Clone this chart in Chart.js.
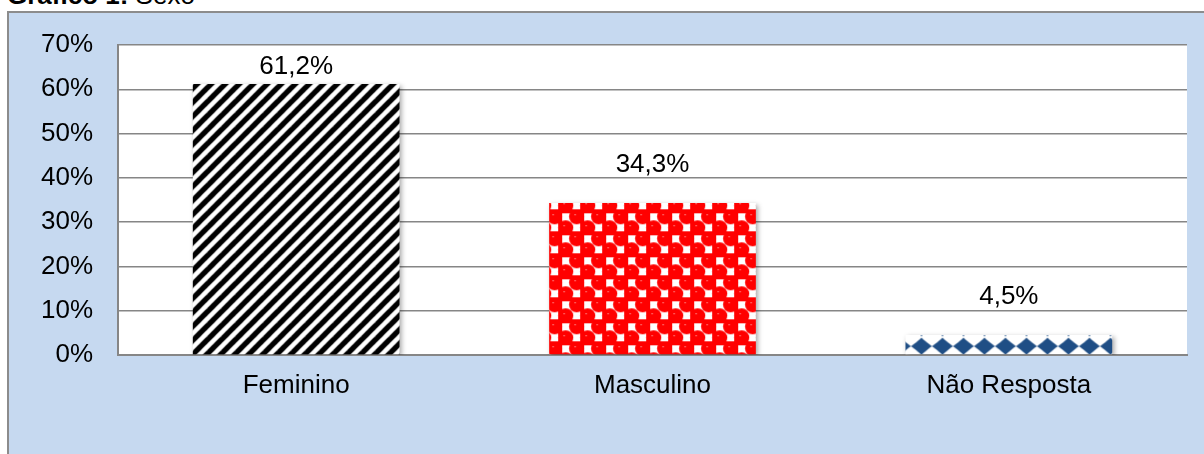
<!DOCTYPE html>
<html>
<head>
<meta charset="utf-8">
<script src="https://cdn.jsdelivr.net/npm/chart.js@4/dist/chart.umd.min.js"></script>
<style>
  html, body { margin: 0; padding: 0; background: #fff; overflow: hidden; }
  body { width: 1204px; height: 454px; position: relative; font-family: "Liberation Sans", Arial, sans-serif; }
  #box { position: absolute; left: 7px; top: 11px; width: 1250px; height: 470px; background: #c6d9f0; border: 2px solid #8c8c8c; }
  #title { position: absolute; left: 7px; top: -18px; font-size: 26px; line-height: 26px; color: #000; white-space: nowrap; }
  #wrap { position: absolute; left: 0; top: 0; width: 1204px; height: 454px; }
</style>
</head>
<body>
<div id="box"></div>
<div id="title"><b>Gráfico 1:</b> Sexo</div>
<div id="wrap"><canvas id="chart"></canvas></div>
<script>
const categories = ["Feminino", "Masculino", "Não Resposta"];
const values = [61.2, 34.3, 4.5];
const valueLabels = ["61,2%", "34,3%", "4,5%"];
const yTicks = [0, 10, 20, 30, 40, 50, 60, 70];

const FONT = "'Liberation Sans', Arial, sans-serif";

function makeTile(w, h, draw) {
  const c = document.createElement("canvas");
  c.width = w;
  c.height = h;
  const g = c.getContext("2d");
  draw(g, w, h);
  return c;
}

const ctx = document.getElementById("chart").getContext("2d");

// diagonal black stripes
const stripeTile = makeTile(14, 14, (g, w, h) => {
  g.fillStyle = "#fff";
  g.fillRect(0, 0, w, h);
  g.strokeStyle = "#000";
  g.lineWidth = 5.4;
  for (const o of [-14, 0, 14]) {
    g.beginPath();
    g.moveTo(o - 2, h + 2);
    g.lineTo(o + w + 2, -2);
    g.stroke();
  }
});

// red balls with white checks
const redTile = makeTile(22, 22, (g) => {
  g.fillStyle = "#fff";
  g.fillRect(0, 0, 22, 22);
  g.fillStyle = "#ff0000";
  for (const [x, y] of [[16.5, 5.5], [5.5, 16.5], [-5.5, 5.5], [5.5, -5.5], [16.5, 27.5], [27.5, 16.5]]) {
    g.beginPath();
    g.arc(x, y, 7.6, 0, Math.PI * 2);
    g.fill();
  }
  g.fillStyle = "#ff0000";
  g.fillRect(9, 0, 4, 22);
  g.fillRect(0, 9, 22, 4);
  g.fillStyle = "#ff7070";
  g.fillRect(14, 3, 2, 1);
  g.fillRect(3, 14, 2, 1);
});

// blue diamonds along the bottom
const diamondTile = makeTile(21, 24, (g) => {
  g.fillStyle = "#fff";
  g.fillRect(0, 0, 21, 24);
  g.fillStyle = "#1f4e85";
  for (const cx of [16, -5, 37]) {
    g.beginPath();
    g.moveTo(cx - 10.5, 16);
    g.quadraticCurveTo(cx - 6, 13, cx, 7.5);
    g.quadraticCurveTo(cx + 6, 13, cx + 10.5, 16);
    g.quadraticCurveTo(cx + 6, 19, cx, 24.5);
    g.quadraticCurveTo(cx - 6, 19, cx - 10.5, 16);
    g.fill();
    g.fillRect(cx - 0.5, 4, 1, 2);
  }
});

const patterns = [
  ctx.createPattern(stripeTile, "repeat"),
  ctx.createPattern(redTile, "repeat"),
  ctx.createPattern(diamondTile, "repeat")
];

const plotBg = {
  id: "plotBg",
  beforeDraw(chart) {
    const a = chart.chartArea;
    chart.ctx.save();
    chart.ctx.fillStyle = "#fff";
    chart.ctx.fillRect(a.left, a.top, a.right - a.left, a.bottom - a.top);
    chart.ctx.restore();
  }
};

const barFx = {
  id: "barFx",
  beforeDatasetDraw(chart) {
    const meta = chart.getDatasetMeta(0);
    meta.data.forEach((bar, i) => {
      const left = bar.x - bar.width / 2;
      const offY = i === 2 ? bar.base - 24 : bar.base;
      patterns[i].setTransform(new DOMMatrix().translate(left, offY));
    });
    const c = chart.ctx;
    c.save();
    c.shadowColor = "rgba(0,0,0,0.35)";
    c.shadowBlur = 5;
    c.shadowOffsetX = 2;
    c.shadowOffsetY = 2;
  },
  afterDatasetDraw(chart) {
    chart.ctx.restore();
  },
  afterDatasetsDraw(chart) {
    const c = chart.ctx;
    const meta = chart.getDatasetMeta(0);
    c.save();
    c.fillStyle = "#000";
    c.font = "26px " + FONT;
    c.textAlign = "center";
    c.textBaseline = "middle";
    meta.data.forEach((bar, i) => {
      const y = Math.max(bar.y - 38, chart.chartArea.top + 22);
      c.fillText(valueLabels[i], bar.x, y);
    });
    c.restore();
  }
};

new Chart(ctx, {
  type: "bar",
  data: {
    labels: categories,
    datasets: [
      {
        data: values,
        backgroundColor: patterns,
        borderWidth: 0,
        categoryPercentage: 1,
        barPercentage: 0.58
      }
    ]
  },
  options: {
    responsive: true,
    maintainAspectRatio: false,
    animation: false,
    layout: { padding: { left: 0, right: 17, top: 45, bottom: 0 } },
    plugins: { legend: { display: false }, tooltip: { enabled: false } },
    scales: {
      x: {
        grid: { display: false, drawTicks: false },
        border: { display: true, color: "#868686", width: 2 },
        ticks: { color: "#000", font: { family: FONT, size: 26 }, padding: 15 },
        afterFit(scale) { scale.height = 99; }
      },
      y: {
        min: 0,
        max: 70,
        afterBuildTicks(scale) { scale.ticks = yTicks.map((v) => ({ value: v })); },
        grid: { color: "#868686", lineWidth: 1.5, drawTicks: false },
        border: { display: true, color: "#868686", width: 2 },
        ticks: {
          color: "#000",
          font: { family: FONT, size: 26 },
          padding: 25,
          callback: (v) => v + "%"
        },
        afterFit(scale) { scale.width = 118; }
      }
    }
  },
  plugins: [plotBg, barFx]
});
</script>
</body>
</html>
